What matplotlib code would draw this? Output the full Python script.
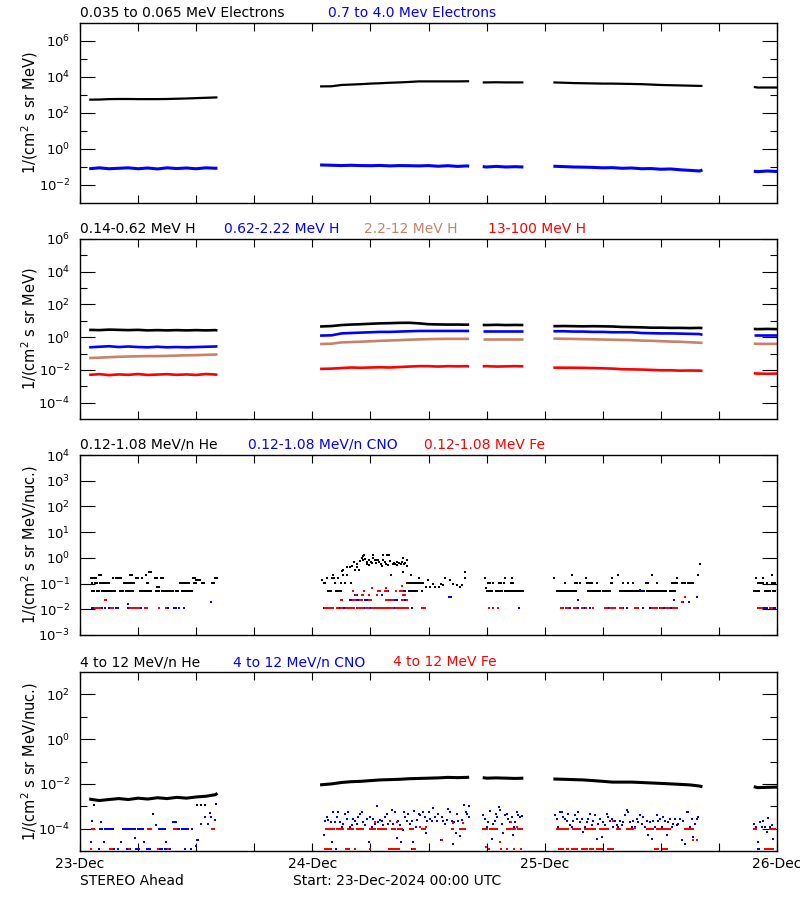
import numpy as np
import matplotlib
matplotlib.use('Agg')
import matplotlib.pyplot as plt
from matplotlib.ticker import FixedLocator, LogFormatterMathtext, NullFormatter

BLUE = '#0000ff'
RED = '#ff0000'
BROWN = '#c8826a'

# hours after 23-Dec-2024 00:00 for the line-like series (one list per data segment)
seg_hours = [
    [0.95, 2, 3, 4, 5, 6, 7, 8, 9, 10, 11, 12, 13, 14, 14.2],
    [24.8, 26, 27, 28, 29, 30, 31, 32, 33, 34, 35, 36, 37, 38, 39, 40, 40.2],
    [41.6, 42, 43, 44, 45, 45.8],
    [48.9, 50, 51, 52, 53, 54, 55, 56, 57, 58, 59, 60, 61, 62, 63, 64, 64.3],
    [69.6, 70, 71, 72],
]

# panel 1: electrons
e_low = [
    [550, 560, 590, 600, 600, 590, 590, 590, 600, 620, 640, 670, 700, 730, 740],
    [3000, 3050, 3600, 3800, 4000, 4300, 4500, 4800, 5000, 5300, 5700, 5700, 5700, 5700, 5700, 5800, 5800],
    [5000, 5000, 5100, 5000, 5000, 5000],
    [5000, 4800, 4600, 4500, 4400, 4300, 4300, 4200, 4100, 4000, 3800, 3600, 3500, 3400, 3300, 3200, 3200],
    [2800, 2600, 2600, 2600],
]
e_high = [
    [0.08, 0.09, 0.08, 0.085, 0.09, 0.08, 0.088, 0.078, 0.09, 0.082, 0.088, 0.08, 0.09, 0.085, 0.086],
    [0.13, 0.125, 0.12, 0.125, 0.12, 0.118, 0.122, 0.115, 0.12, 0.118, 0.115, 0.12, 0.11, 0.118, 0.108, 0.115, 0.11],
    [0.105, 0.1, 0.108, 0.1, 0.104, 0.1],
    [0.11, 0.105, 0.1, 0.098, 0.095, 0.09, 0.092, 0.085, 0.088, 0.08, 0.082, 0.075, 0.078, 0.07, 0.065, 0.06, 0.068],
    [0.058, 0.055, 0.06, 0.056],
]

# panel 2: protons
h1 = [
    [2.8, 2.7, 2.9, 2.8, 2.7, 2.8, 2.6, 2.7, 2.6, 2.7, 2.6, 2.7, 2.6, 2.7, 2.6],
    [4.5, 4.8, 5.5, 5.9, 6.2, 6.6, 7.0, 7.2, 7.5, 7.6, 7.0, 6.2, 6.0, 5.9, 5.9, 5.8, 5.9],
    [5.6, 5.5, 5.7, 5.5, 5.6, 5.5],
    [4.7, 4.8, 4.7, 4.6, 4.7, 4.6, 4.5, 4.2, 4.1, 4.0, 3.8, 3.8, 3.7, 3.7, 3.6, 3.7, 3.6],
    [3.2, 3.1, 3.2, 3.1],
]
h2 = [
    [0.24, 0.26, 0.28, 0.25, 0.27, 0.25, 0.24, 0.26, 0.24, 0.25, 0.24, 0.25, 0.26, 0.27, 0.28],
    [1.25, 1.3, 1.7, 1.8, 1.9, 2.0, 2.1, 2.1, 2.2, 2.3, 2.4, 2.4, 2.4, 2.4, 2.4, 2.4, 2.4],
    [2.5, 2.5, 2.5, 2.5, 2.5, 2.5],
    [2.3, 2.3, 2.2, 2.2, 2.1, 2.1, 2.0, 2.0, 2.0, 1.8, 1.75, 1.7, 1.7, 1.65, 1.6, 1.55, 1.4],
    [1.4, 1.4, 1.4, 1.4],
]
h3 = [
    [0.053, 0.056, 0.06, 0.063, 0.066, 0.068, 0.07, 0.07, 0.072, 0.075, 0.078, 0.08, 0.083, 0.087, 0.089],
    [0.38, 0.4, 0.48, 0.5, 0.53, 0.56, 0.6, 0.63, 0.66, 0.7, 0.73, 0.76, 0.78, 0.79, 0.79, 0.79, 0.79],
    [0.82, 0.82, 0.82, 0.82, 0.82, 0.82],
    [0.82, 0.8, 0.78, 0.76, 0.74, 0.72, 0.7, 0.68, 0.66, 0.62, 0.6, 0.57, 0.54, 0.52, 0.49, 0.46, 0.45],
    [0.4, 0.39, 0.39, 0.39],
]
h4 = [
    [0.005, 0.0055, 0.0048, 0.0053, 0.005, 0.0056, 0.0049, 0.0052, 0.0055, 0.005, 0.0053, 0.0049, 0.0056, 0.0052, 0.005],
    [0.0115, 0.012, 0.013, 0.014, 0.0135, 0.014, 0.0145, 0.014, 0.015, 0.016, 0.017, 0.017, 0.016, 0.017, 0.0165, 0.017, 0.016],
    [0.0165, 0.017, 0.016, 0.0165, 0.017, 0.0165],
    [0.0138, 0.0136, 0.0135, 0.0133, 0.013, 0.0125, 0.012, 0.011, 0.0108, 0.0105, 0.01, 0.0095, 0.0095, 0.009, 0.0092, 0.009, 0.0088],
    [0.0062, 0.006, 0.0058, 0.006],
]

# panel 3: 0.12-1.08 MeV/n, count-quantised points (runs are hour ranges at a fixed level)
he3_r053 = [(1.24, 1.45), (1.76, 1.96), (2.27, 2.89), (3.0, 3.72), (4.13, 4.55), (4.75, 5.06), (5.17, 5.51),
            (6.2, 7.44), (7.85, 8.26), (8.47, 9.64), (9.92, 10.12), (10.54, 11.67),
            (25.62, 26.03), (26.45, 26.96), (34.02, 34.88),
            (42.01, 42.56), (42.94, 43.73), (43.9, 45.73),
            (49.24, 51.31), (52.52, 53.72), (54.06, 54.82), (55.79, 58.37), (58.54, 60.61), (60.95, 61.47),
            (69.63, 70.25), (70.77, 71.28), (71.63, 71.9)]
he3_r105 = [(1.24, 1.38), (1.55, 1.79), (2.07, 2.27), (2.48, 3.1), (4.55, 4.75), (4.96, 5.17), (5.37, 5.68),
            (6.89, 7.13), (10.33, 10.54), (10.64, 10.85), (11.05, 11.26), (11.78, 11.98), (12.6, 12.91),
            (13.64, 13.84), (33.75, 35.47),
            (42.18, 42.42), (42.7, 42.7), (43.32, 43.56), (43.8, 43.8), (44.52, 44.83),
            (50.1, 50.1), (51.14, 51.38), (51.65, 51.65), (52.34, 52.93), (53.38, 53.38), (54.82, 55.1),
            (56.06, 56.06), (56.65, 56.65), (57.16, 57.16), (58.47, 58.47), (58.71, 58.71), (59.58, 59.58),
            (61.12, 61.71), (62.16, 62.5), (62.85, 63.36),
            (70.08, 70.6), (70.94, 70.94), (71.46, 71.9)]
he3_r16 = [(1.14, 1.65), (3.41, 3.41), (3.72, 4.24), (5.79, 5.99), (6.4, 6.4), (7.75, 7.95), (8.37, 8.57),
           (11.67, 11.88), (13.95, 14.15), (41.8, 41.8), (43.9, 43.9), (44.59, 44.59),
           (49.0, 49.0), (52.24, 52.24), (55.0, 55.0), (61.64, 61.64), (69.84, 69.84), (70.6, 70.6)]
he3_r21 = [(1.96, 2.17), (5.17, 5.37), (6.82, 6.92), (50.79, 50.79), (55.55, 55.55), (59.13, 59.13),
           (63.88, 63.88), (71.46, 71.46)]
he3_pts = [(7.13, 0.27), (7.3, 0.27), (7.95, 0.071), (8.12, 0.071), (12.0, 0.134), (12.2, 0.134), (12.4, 0.134),
           (25.0, 0.134), (25.2, 0.105), (25.31, 0.105), (25.48, 0.16), (26.03, 0.16), (26.17, 0.21),
           (26.24, 0.16), (26.34, 0.105), (26.65, 0.16), (26.93, 0.105), (27.07, 0.30), (27.13, 0.33),
           (27.2, 0.21), (27.41, 0.105), (27.55, 0.43), (27.62, 0.21), (27.89, 0.44), (27.96, 0.105),
           (28.1, 0.5), (28.34, 0.72), (28.44, 0.33), (28.58, 0.6), (28.65, 0.44), (28.86, 0.33),
           (28.93, 0.76), (29.1, 1.0), (29.2, 0.86), (29.27, 1.16), (29.37, 1.25), (29.44, 0.9),
           (29.61, 0.6), (29.68, 0.72), (29.82, 0.8), (29.89, 0.55), (30.03, 0.72), (30.13, 0.64),
           (30.23, 1.25), (30.3, 1.0), (30.47, 0.8), (30.58, 0.64), (30.65, 0.86), (30.78, 0.8),
           (30.92, 0.72), (31.06, 0.6), (31.2, 0.47), (31.27, 1.35), (31.34, 0.8), (31.47, 0.72),
           (31.61, 0.6), (31.68, 1.25), (31.82, 0.55), (31.89, 1.35), (32.02, 0.74), (32.09, 0.21),
           (32.3, 0.6), (32.44, 0.64), (32.58, 0.6), (32.71, 0.55), (32.78, 0.68), (32.99, 0.64),
           (33.13, 0.6), (33.26, 0.72), (33.33, 0.98), (33.4, 0.27), (33.47, 0.6), (33.61, 0.64),
           (33.75, 0.47), (33.82, 0.86), (34.16, 0.21), (34.99, 0.16), (35.3, 0.053), (35.74, 0.074),
           (35.98, 0.134), (36.16, 0.074), (36.43, 0.095), (36.71, 0.074), (37.05, 0.074), (37.26, 0.095),
           (37.47, 0.09), (37.74, 0.17), (38.22, 0.134), (38.5, 0.095), (38.91, 0.085), (39.26, 0.074),
           (39.46, 0.085), (39.74, 0.27), (39.74, 0.17), (41.94, 0.07), (64.05, 0.58)]

cno3_r0115 = [(1.24, 1.55), (2.07, 2.27), (2.6, 2.6), (3.0, 3.2), (3.72, 3.93), (4.96, 5.17), (5.8, 5.8),
              (6.1, 6.4), (8.88, 9.09), (9.71, 9.92), (10.25, 10.25), (10.78, 10.78),
              (25.2, 25.41), (26.69, 27.03), (27.2, 27.4), (28.93, 28.93), (29.34, 29.34), (29.8, 29.96),
              (32.37, 32.64), (32.89, 33.06), (34.26, 34.26), (45.4, 45.4),
              (50.62, 50.62), (51.48, 51.48), (52.17, 52.17), (52.69, 52.69), (54.41, 54.68), (56.06, 56.06),
              (56.48, 56.48), (58.2, 58.2), (58.89, 58.89), (59.92, 59.92), (60.33, 60.33), (60.78, 60.78),
              (61.02, 61.02), (70.6, 70.94), (71.63, 71.8)]
cno3_pts = [(4.96, 0.0155), (13.5, 0.0195), (27.89, 0.024), (28.06, 0.024), (28.58, 0.024), (28.79, 0.024),
            (29.44, 0.024), (29.61, 0.024), (32.54, 0.024), (32.78, 0.024), (33.57, 0.024), (28.41, 0.036),
            (28.58, 0.036), (31.16, 0.036), (31.51, 0.05), (31.68, 0.05), (31.85, 0.05), (33.4, 0.05),
            (33.57, 0.05), (38.15, 0.03), (38.29, 0.03), (51.41, 0.024), (57.85, 0.055), (61.37, 0.024),
            (62.33, 0.02), (62.95, 0.02), (63.71, 0.03)]

fe3_r0115 = [(1.55, 2.07), (3.2, 3.41), (5.17, 5.37), (5.48, 5.68), (5.89, 6.1), (6.71, 6.92), (8.2, 8.2),
             (8.9, 8.9), (25.31, 26.24), (26.5, 26.7), (26.93, 27.2), (27.48, 28.41), (28.58, 29.27),
             (29.54, 29.96), (30.13, 30.65), (30.82, 31.68), (31.85, 32.37), (32.64, 32.89), (33.06, 33.92),
             (35.3, 35.64), (42.29, 42.29), (42.7, 42.7), (43.22, 43.22),
             (49.69, 49.93), (50.21, 50.38), (51.04, 51.31), (51.83, 52.07), (52.28, 52.41), (52.96, 53.1),
             (54.24, 54.48), (54.75, 54.93), (55.1, 55.27), (55.79, 55.96), (57.34, 57.78), (59.06, 59.58),
             (59.99, 60.26), (60.5, 60.95), (61.3, 61.64), (70.08, 70.42), (71.28, 71.56)]
fe3_pts = [(2.6, 0.024), (2.7, 0.024), (26.93, 0.024), (27.1, 0.024), (28.24, 0.024), (28.41, 0.024),
           (28.93, 0.024), (29.1, 0.024), (29.89, 0.024), (30.06, 0.024), (31.61, 0.024), (31.78, 0.024),
           (32.02, 0.024), (32.2, 0.024), (32.37, 0.024), (33.23, 0.024), (33.4, 0.024), (33.75, 0.024),
           (28.51, 0.036), (29.1, 0.036), (29.27, 0.036), (29.89, 0.036), (30.65, 0.036), (33.4, 0.036),
           (33.57, 0.036), (28.17, 0.05), (29.37, 0.05), (30.82, 0.05), (31.0, 0.05), (31.51, 0.05),
           (31.68, 0.05), (32.64, 0.05), (33.06, 0.05), (33.23, 0.05), (30.2, 0.07), (31.58, 0.07),
           (33.23, 0.08), (62.16, 0.02), (62.5, 0.03)]

# panel 4: 4-12 MeV/n
he4 = [
    [2.1e-3, 1.8e-3, 2.0e-3, 2.2e-3, 2.0e-3, 2.3e-3, 2.1e-3, 2.4e-3, 2.2e-3, 2.5e-3, 2.3e-3, 2.6e-3, 2.8e-3, 3.3e-3, 3.8e-3],
    [9.0e-3, 1.0e-2, 1.15e-2, 1.25e-2, 1.3e-2, 1.4e-2, 1.5e-2, 1.55e-2, 1.6e-2, 1.7e-2, 1.75e-2, 1.8e-2, 1.85e-2, 1.95e-2, 1.9e-2, 1.95e-2, 2.0e-2],
    [1.9e-2, 1.8e-2, 1.85e-2, 1.8e-2, 1.75e-2, 1.8e-2],
    [1.65e-2, 1.6e-2, 1.55e-2, 1.5e-2, 1.4e-2, 1.3e-2, 1.2e-2, 1.2e-2, 1.2e-2, 1.15e-2, 1.1e-2, 1.05e-2, 1.0e-2, 9.5e-3, 9.0e-3, 8.0e-3, 7.5e-3],
    [7.5e-3, 6.8e-3, 7.0e-3, 7.2e-3],
]
he4_pts = [(1.45, 1.1e-3), (7.5, 4.6e-4), (12.1, 1.1e-3), (12.5, 1.1e-3), (12.9, 1.1e-3), (14.1, 1.2e-3)]

cno4_r1e4 = [(1.24, 1.55), (2.07, 2.27), (2.58, 3.44), (4.48, 4.82), (4.99, 5.68), (6.03, 6.54), (8.16, 8.88),
             (9.71, 10.33), (10.5, 11.19), (11.6, 11.7)]
cno4_r12e6 = [(1.14, 1.24), (1.96, 1.96), (3.1, 3.3), (3.51, 3.51), (3.93, 3.93), (4.82, 4.82), (5.17, 5.17),
              (5.79, 6.2), (6.89, 7.3), (8.26, 8.44), (8.78, 9.3), (10.85, 10.85), (11.47, 11.47),
              (25.41, 25.41), (25.89, 25.89), (26.45, 26.45), (29.96, 29.96), (34.26, 34.26),
              (70.0, 70.3), (70.9, 71.1)]
cno4_pts = [
    (1.24, 2.2e-4), (2.17, 2.0e-4), (1.14, 2.5e-5), (2.48, 2.5e-5), (4.2, 2.5e-5), (5.68, 3.8e-5), (6.6, 2.5e-5),
    (8.9, 2.5e-5), (12.05, 3e-5), (12.2, 3e-5), (12.0, 1.6e-5), (13.4, 4.8e-4), (12.95, 3.2e-4), (13.57, 3.3e-4),
    (13.95, 2.5e-4), (12.5, 1.67e-4), (13.2, 1.67e-4), (9.6, 2e-4), (9.75, 2e-4), (9.9, 2e-4), (7.8, 1.4e-4),
    (25.21, 5.0e-5), (25.31, 2.3e-4), (25.48, 3.3e-4), (25.65, 2.5e-4), (25.89, 2.0e-4), (26.03, 2.5e-5),
    (26.17, 5.5e-4), (26.34, 2.0e-4), (26.51, 3.3e-4), (26.65, 5.5e-4), (26.86, 2.0e-4), (27.03, 1.2e-4),
    (27.2, 1.67e-4), (27.38, 4.6e-4), (27.55, 2.8e-4), (27.72, 5.5e-4), (27.89, 1.2e-4), (28.06, 1.4e-4),
    (28.24, 2.8e-4), (28.41, 2.3e-4), (28.58, 1.67e-4), (28.75, 3.3e-4), (28.93, 4.6e-4), (29.1, 5.5e-4),
    (29.27, 2.0e-4), (29.44, 1.4e-4), (29.61, 2.8e-4), (29.86, 2.5e-5), (29.96, 3.3e-4), (30.13, 1.2e-4),
    (30.3, 2.8e-4), (30.47, 1.67e-4), (30.65, 1.0e-3), (30.82, 2.0e-4), (30.99, 2.5e-4), (31.16, 2.3e-4),
    (31.34, 1.4e-4), (31.51, 3.3e-4), (31.68, 4.6e-4), (31.85, 1.67e-4), (32.02, 2.2e-4), (32.2, 6.9e-4),
    (32.37, 1.6e-4), (32.54, 5.5e-4), (32.71, 3.8e-5), (32.89, 2.3e-4), (33.06, 1.4e-4), (33.13, 2.5e-5),
    (33.23, 1.0e-4), (33.33, 8.4e-5), (33.47, 5.4e-4), (33.57, 3.3e-4), (33.75, 2.3e-4), (33.92, 4.6e-4),
    (34.09, 1.67e-4), (34.26, 2.3e-4), (34.4, 2.5e-5), (34.5, 6.1e-4), (34.71, 1.2e-4), (34.85, 2.5e-4),
    (34.99, 4.6e-4), (35.12, 3.9e-4), (35.3, 1.0e-4), (35.47, 5.5e-4), (35.64, 3.3e-4), (35.74, 6.3e-5),
    (35.88, 2.2e-4), (36.02, 5.5e-4), (36.16, 2.8e-4), (36.33, 2.3e-4), (36.5, 8.3e-4), (36.67, 3.3e-4),
    (36.85, 2.3e-4), (37.02, 4.6e-4), (37.26, 3.0e-5), (37.36, 3.3e-4), (37.53, 2.3e-4), (37.7, 1.67e-4),
    (37.88, 2.5e-4), (38.05, 7.7e-4), (38.22, 5.5e-4), (38.4, 2.3e-4), (38.53, 2.1e-5), (38.64, 2.0e-4),
    (38.84, 6.3e-5), (38.91, 4.6e-4), (39.08, 2.3e-4), (39.26, 4.6e-5), (39.43, 2.5e-4), (39.67, 1.1e-3),
    (39.88, 5.5e-4), (40.01, 4.6e-4), (40.15, 1.0e-3), (40.22, 3.3e-4),
    (41.67, 3.9e-4), (41.84, 2.8e-4), (42.01, 1.2e-4), (42.18, 2.0e-4), (42.36, 6.1e-4), (42.53, 3.6e-5),
    (42.7, 1.67e-4), (42.87, 2.3e-4), (42.97, 4.6e-4), (43.11, 3.3e-4), (43.32, 9e-4), (43.39, 6.5e-4),
    (43.56, 1.67e-4), (43.73, 6.3e-5), (43.9, 3.9e-4), (44.08, 4.6e-4), (44.25, 2.8e-4), (44.42, 2.0e-4),
    (44.59, 3.3e-4), (44.7, 5.0e-5), (44.83, 1.2e-4), (44.94, 2.0e-4), (45.11, 5.5e-4), (45.28, 3.9e-4),
    (45.45, 3.3e-4), (45.66, 3.5e-4),
    (49.07, 3.9e-4), (49.24, 2.8e-4), (49.42, 1.2e-4), (49.59, 5.5e-4), (49.76, 5.8e-4), (49.93, 3.3e-4),
    (50.1, 2.8e-4), (50.28, 2.3e-4), (50.45, 4.6e-4), (50.62, 1.4e-4), (50.79, 1.2e-4), (50.97, 2.3e-4),
    (51.14, 3.9e-4), (51.31, 2.8e-4), (51.48, 5.5e-4), (51.65, 2.0e-4), (51.83, 2.8e-4), (52.0, 7e-5),
    (52.17, 1.2e-4), (52.34, 2.0e-4), (52.52, 2.8e-4), (52.69, 4.6e-4), (52.86, 1.4e-4), (53.03, 2.3e-4),
    (53.2, 3.9e-4), (53.38, 3.6e-5), (53.55, 1.67e-4), (53.72, 2.8e-4), (53.89, 4.3e-5), (54.07, 2.0e-4),
    (54.24, 1.4e-4), (54.41, 4.6e-4), (54.58, 3.3e-4), (54.75, 2.3e-4), (54.93, 2.8e-4), (55.1, 1.2e-4),
    (55.27, 2.3e-4), (55.44, 1.4e-4), (55.62, 1.2e-4), (55.79, 2.3e-4), (55.96, 1.4e-4), (56.13, 2.0e-4),
    (56.3, 3.9e-4), (56.48, 6.7e-4), (56.65, 5.5e-4), (56.82, 2.0e-4), (56.99, 1.2e-4), (57.16, 2.3e-4),
    (57.34, 1.2e-4), (57.51, 2.8e-4), (57.68, 2.0e-4), (57.85, 3.9e-4), (58.03, 1.67e-4), (58.2, 3.3e-4),
    (58.37, 1.2e-4), (58.54, 2.3e-4), (58.71, 5e-5), (58.89, 2.0e-4), (59.06, 3.6e-5), (59.23, 2.3e-4),
    (59.4, 1.2e-4), (59.58, 3.9e-4), (59.75, 2.3e-4), (59.92, 2.8e-4), (60.09, 1.2e-4), (60.26, 3.3e-4),
    (60.44, 2.3e-4), (60.61, 5e-5), (60.78, 2.0e-4), (60.95, 2.8e-4), (61.12, 1.2e-4), (61.3, 1.67e-4),
    (61.47, 2.8e-4), (61.64, 1.4e-4), (61.81, 1.67e-4), (61.99, 2.8e-4), (62.16, 3e-5), (62.33, 2.3e-4),
    (62.5, 2.1e-5), (62.68, 5.5e-4), (62.85, 5.5e-4), (63.02, 1.2e-4), (63.19, 2.8e-4), (63.36, 4.3e-5),
    (63.53, 1.67e-4), (63.71, 2.8e-4), (63.88, 3.3e-4),
    (69.63, 1.67e-4), (69.84, 1.2e-4), (70.08, 2.5e-5), (70.25, 2.0e-4), (70.42, 1.2e-4), (70.6, 2.3e-4),
    (70.77, 1.2e-4), (70.94, 7e-5), (71.11, 3e-4), (71.28, 1.2e-4), (71.46, 1.4e-4), (71.63, 3.6e-5),
    (71.8, 1.0e-4),
]

fe4_r1e4 = [(1.24, 1.55), (7.02, 7.4), (9.71, 9.92), (13.64, 13.84),
            (25.41, 26.34), (26.51, 27.2), (27.72, 28.24), (28.58, 29.27), (29.96, 30.47), (30.82, 31.68),
            (32.2, 32.54), (32.89, 33.23), (34.09, 34.44), (35.3, 35.64), (38.4, 38.64), (39.26, 39.77),
            (41.67, 42.01), (42.36, 43.04), (44.08, 44.42), (44.59, 44.94), (45.28, 45.62),
            (49.24, 50.45), (50.97, 51.65), (52.17, 53.2), (53.72, 54.58), (55.44, 55.79), (56.48, 57.16),
            (58.54, 59.23), (59.58, 60.95), (62.5, 63.36), (69.63, 69.9), (71.28, 71.8)]
fe4_r12e6 = [(1.14, 1.24), (3.1, 3.3), (5.06, 5.17), (8.06, 8.16), (9.09, 9.09), (25.31, 26.1), (27.48, 27.82),
             (28.41, 28.41), (29.96, 29.96), (31.96, 32.99), (34.44, 34.71), (42.25, 42.25), (43.46, 43.46),
             (44.08, 44.08), (44.83, 44.83), (45.52, 45.52), (49.52, 49.93), (50.28, 50.45), (50.79, 51.31),
             (51.83, 52.34), (52.69, 53.03), (53.38, 53.89), (54.58, 55.1), (59.4, 59.75), (60.26, 60.61),
             (70.77, 71.63)]
fe4_pts = [(30.47, 2e-4), (32.02, 2.2e-4), (32.78, 2e-4), (35.12, 1.2e-4), (35.71, 1.2e-4), (37.36, 3e-5),
           (38.57, 1.8e-4), (39.6, 1.8e-4), (43.39, 2.5e-5), (44.49, 2e-4), (45.11, 1.2e-4), (41.9, 1.5e-5),
           (55.1, 2.2e-4), (57.34, 1.1e-4), (63.36, 3.2e-5), (63.71, 3.2e-5)]

day_labels = ['23-Dec', '24-Dec', '25-Dec', '26-Dec']


def runs(r):
    return np.concatenate([np.arange(a, b + 0.01, 1 / 6) for a, b in r])


def lines(ax, vals, color, lw=1.6):
    for t, v in zip(seg_hours, vals):
        ax.plot(t, v, color=color, lw=lw, solid_capstyle='butt')


def dots(ax, t, v, color):
    ax.plot(t, v, ls='none', marker='s', ms=1.5, mew=0, color=color)


def level(ax, r, lev, color):
    t = runs(r)
    dots(ax, t, np.full(len(t), lev), color)


def pts(ax, p, color):
    t, v = zip(*p)
    dots(ax, t, v, color)


def setup(ax, ylim, major, minor, ylabel):
    ax.set_xlim(0, 72)
    ax.set_yscale('log')
    ax.set_ylim(*ylim)
    ax.yaxis.set_major_locator(FixedLocator(major))
    ax.yaxis.set_major_formatter(LogFormatterMathtext())
    ax.yaxis.set_minor_locator(FixedLocator(minor))
    ax.yaxis.set_minor_formatter(NullFormatter())
    ax.set_xticks([0, 24, 48, 72])
    ax.set_xticks([h for h in range(6, 72, 6) if h % 24], minor=True)
    ax.tick_params(which='both', direction='in', top=True, right=True, width=0.8, labelsize=9.5, pad=7)
    ax.tick_params(axis='y', which='major', length=11)
    ax.tick_params(axis='y', which='minor', length=5)
    ax.tick_params(axis='x', which='both', length=6, labelbottom=False)
    for s in ax.spines.values():
        s.set_linewidth(1)
    ax.set_ylabel(ylabel, fontsize=10.5)
    ax.yaxis.set_label_coords(-0.058, 0.5)


fig = plt.figure(figsize=(8, 9), dpi=100)


def add_ax(top, bottom):
    return fig.add_axes([80 / 800, 1 - bottom / 900, 697 / 800, (bottom - top) / 900])


def title(items, y):
    for txt, x, c in items:
        fig.text(x / 800, 1 - y / 900, txt, color=c, fontsize=10, va='center', ha='left')


unit1 = '1/(cm$^2$ s sr MeV)'
unit2 = '1/(cm$^2$ s sr MeV/nuc.)'

ax1 = add_ax(23, 203)
setup(ax1, (1e-3, 1e7), [1e-2, 1, 1e2, 1e4, 1e6], [1e-1, 1e1, 1e3, 1e5], unit1)
lines(ax1, e_low, 'black', 1.6)
lines(ax1, e_high, BLUE, 2.2)
title([('0.035 to 0.065 MeV Electrons', 80, 'black'), ('0.7 to 4.0 Mev Electrons', 328, BLUE)], 13)

ax2 = add_ax(239, 419)
setup(ax2, (1e-5, 1e6), [1e-4, 1e-2, 1, 1e2, 1e4, 1e6], [1e-3, 1e-1, 1e1, 1e3, 1e5], unit1)
lines(ax2, h1, 'black', 1.9)
lines(ax2, h2, BLUE, 1.9)
lines(ax2, h3, BROWN, 1.9)
lines(ax2, h4, RED, 1.9)
title([('0.14-0.62 MeV H', 80, 'black'), ('0.62-2.22 MeV H', 224, BLUE),
       ('2.2-12 MeV H', 364, BROWN), ('13-100 MeV H', 488, RED)], 229)

ax3 = add_ax(455, 635)
setup(ax3, (1e-3, 1e4), [1e-3, 1e-2, 1e-1, 1, 1e1, 1e2, 1e3, 1e4], [], unit2)
level(ax3, he3_r053, 0.053, 'black')
level(ax3, he3_r105, 0.105, 'black')
level(ax3, he3_r16, 0.16, 'black')
level(ax3, he3_r21, 0.21, 'black')
pts(ax3, he3_pts, 'black')
level(ax3, cno3_r0115, 0.0115, BLUE)
pts(ax3, cno3_pts, BLUE)
level(ax3, fe3_r0115, 0.0115, RED)
pts(ax3, fe3_pts, RED)
title([('0.12-1.08 MeV/n He', 80, 'black'), ('0.12-1.08 MeV/n CNO', 248, BLUE),
       ('0.12-1.08 MeV Fe', 424, RED)], 445)

ax4 = add_ax(672, 851)
setup(ax4, (1e-5, 1e3), [1e-4, 1e-2, 1, 1e2], [1e-3, 1e-1, 1e1], unit2)
lines(ax4, he4, 'black', 2.2)
pts(ax4, he4_pts, 'black')
level(ax4, cno4_r1e4, 1e-4, BLUE)
level(ax4, cno4_r12e6, 1.2e-5, BLUE)
pts(ax4, cno4_pts, BLUE)
level(ax4, fe4_r1e4, 1e-4, RED)
level(ax4, fe4_r12e6, 1.2e-5, RED)
pts(ax4, fe4_pts, RED)
ax4.tick_params(axis='x', which='major', labelbottom=True, pad=4, labelsize=10)
ax4.set_xticklabels(day_labels)
title([('4 to 12 MeV/n He', 80, 'black'), ('4 to 12 MeV/n CNO', 233, BLUE),
       ('4 to 12 MeV Fe', 393, RED)], 662)

fig.text(80 / 800, 1 - 881 / 900, 'STEREO Ahead', fontsize=10, va='center')
fig.text(293 / 800, 1 - 881 / 900, 'Start: 23-Dec-2024 00:00 UTC', fontsize=10, va='center')

fig.savefig('out.png', dpi=100)
